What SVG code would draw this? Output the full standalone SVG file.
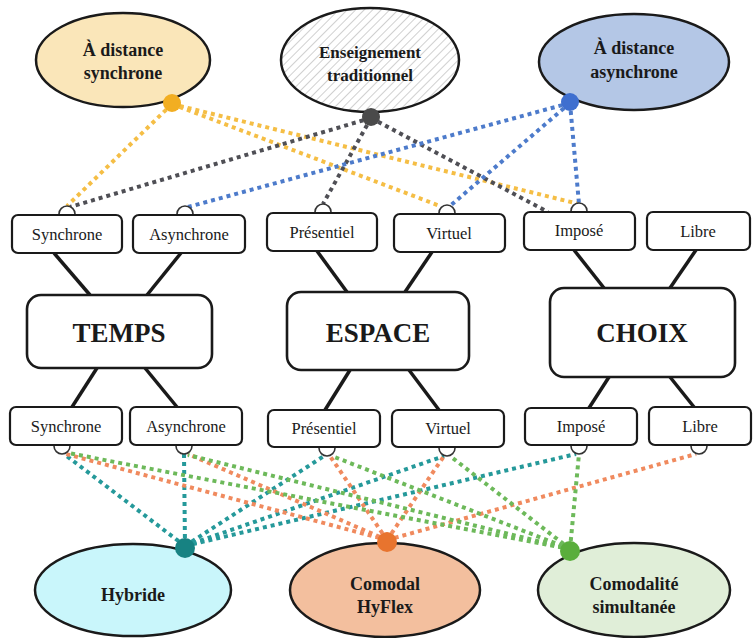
<svg xmlns="http://www.w3.org/2000/svg" width="754" height="638" viewBox="0 0 754 638" font-family="'Liberation Serif', 'Times New Roman', serif">
<defs>
<pattern id="hatch" patternUnits="userSpaceOnUse" width="6" height="6" patternTransform="rotate(45)">
<rect width="6" height="6" fill="#ffffff"/>
<line x1="0" y1="0" x2="0" y2="6" stroke="#c4c4c4" stroke-width="1.6"/>
</pattern>
<style>
text{font-family:'Liberation Serif','Times New Roman',serif}
.ell{stroke:#1a1a1a;stroke-width:2.5}
.big{font-weight:bold;font-size:18px;fill:#1a1a1a;text-anchor:middle}
.sm{fill:#fff;stroke:#1a1a1a;stroke-width:2.2}
.smt{font-size:16.5px;fill:#1a1a1a;text-anchor:middle}
.mid{fill:#fff;stroke:#1a1a1a;stroke-width:2.6}
.midt{font-weight:bold;font-size:27px;fill:#1a1a1a;text-anchor:middle}
.port{fill:#fff;stroke:#333;stroke-width:1.6}
.link{stroke:#1a1a1a;stroke-width:3.5;fill:none}
.dot{fill:none;stroke-width:4;stroke-dasharray:4 4}
.c-or{stroke:#F5BE45}
.c-dk{stroke:#4f4f55}
.c-bl{stroke:#4D7BCB}
.c-te{stroke:#25999A}
.c-sa{stroke:#F08A5E}
.c-gr{stroke:#6DB95A}
</style>
</defs>
<rect width="754" height="638" fill="#ffffff"/>

<g id="ell-sync">
<ellipse class="ell" cx="123" cy="60" rx="87" ry="47" fill="#FAE6B9"/>
<text class="big" x="123" y="56">À distance</text>
<text class="big" x="123" y="79">synchrone</text>
</g>
<g id="ell-trad">
<ellipse class="ell" cx="370" cy="60" rx="89" ry="52" fill="url(#hatch)"/>
<text class="big" x="370" y="58" style="font-size:17px">Enseignement</text>
<text class="big" x="370" y="81" style="font-size:17px">traditionnel</text>
</g>
<g id="ell-async">
<ellipse class="ell" cx="634" cy="62" rx="95" ry="48" fill="#B4C7E6"/>
<text class="big" x="634" y="54">À distance</text>
<text class="big" x="634" y="78">asynchrone</text>
</g>
<g id="ell-hybride">
<ellipse class="ell" cx="133" cy="590" rx="98" ry="46" fill="#C9F6FB"/>
<text class="big" x="133" y="601">Hybride</text>
</g>
<g id="ell-comodal">
<ellipse class="ell" cx="385" cy="590" rx="95" ry="47" fill="#F3BF9E"/>
<text class="big" x="385" y="590">Comodal</text>
<text class="big" x="385" y="613">HyFlex</text>
</g>
<g id="ell-comodalite">
<ellipse class="ell" cx="634" cy="590" rx="96" ry="47" fill="#E0EED8"/>
<text class="big" x="634" y="590">Comodalité</text>
<text class="big" x="634" y="613">simultanée</text>
</g>

<g id="connectors">
<line class="link" x1="54" y1="253" x2="90" y2="295"/>
<line class="link" x1="181" y1="253" x2="147" y2="295"/>
<line class="link" x1="317" y1="251" x2="347" y2="292"/>
<line class="link" x1="432" y1="252" x2="405" y2="292"/>
<line class="link" x1="574" y1="250" x2="604" y2="288"/>
<line class="link" x1="696" y1="250" x2="670" y2="288"/>
<line class="link" x1="97" y1="368" x2="72" y2="407"/>
<line class="link" x1="145" y1="368" x2="177" y2="407"/>
<line class="link" x1="350" y1="370" x2="325" y2="410"/>
<line class="link" x1="409" y1="370" x2="439" y2="410"/>
<line class="link" x1="609" y1="377" x2="589" y2="408"/>
<line class="link" x1="670" y1="377" x2="694" y2="407"/>

<line class="dot c-or" x1="172" y1="104" x2="67" y2="206"/>
<line class="dot c-or" x1="172" y1="104" x2="440" y2="206"/>
<line class="dot c-or" x1="172" y1="104" x2="579" y2="204"/>
<line class="dot c-dk" x1="371" y1="118" x2="70" y2="207"/>
<line class="dot c-dk" x1="371" y1="118" x2="323" y2="204"/>
<line class="dot c-dk" x1="371" y1="118" x2="548" y2="212"/>
<line class="dot c-bl" x1="570" y1="103" x2="188" y2="207"/>
<line class="dot c-bl" x1="570" y1="103" x2="450" y2="206"/>
<line class="dot c-bl" x1="570" y1="103" x2="579" y2="204"/>

<line class="dot c-te" x1="185" y1="546" x2="64" y2="454"/>
<line class="dot c-te" x1="185" y1="546" x2="184" y2="454"/>
<line class="dot c-te" x1="185" y1="546" x2="324" y2="456"/>
<line class="dot c-te" x1="185" y1="546" x2="444" y2="456"/>
<line class="dot c-te" x1="185" y1="546" x2="576" y2="454"/>
<line class="dot c-sa" x1="387" y1="540" x2="66" y2="454"/>
<line class="dot c-sa" x1="387" y1="540" x2="188" y2="454"/>
<line class="dot c-sa" x1="387" y1="540" x2="330" y2="456"/>
<line class="dot c-sa" x1="387" y1="540" x2="444" y2="456"/>
<line class="dot c-sa" x1="387" y1="540" x2="696" y2="454"/>
<line class="dot c-gr" x1="570" y1="549" x2="68" y2="453"/>
<line class="dot c-gr" x1="570" y1="549" x2="188" y2="455"/>
<line class="dot c-gr" x1="570" y1="549" x2="332" y2="456"/>
<line class="dot c-gr" x1="570" y1="549" x2="450" y2="456"/>
<line class="dot c-gr" x1="570" y1="549" x2="579" y2="454"/>

<circle cx="172" cy="103" r="9" fill="#F2AE22"/>
<circle cx="371" cy="117" r="9" fill="#4a4a4a"/>
<circle cx="570" cy="102" r="9" fill="#3F6FCF"/>
<circle cx="185" cy="548" r="10" fill="#178282"/>
<circle cx="387" cy="542" r="10" fill="#E8742E"/>
<circle cx="570" cy="551" r="10" fill="#5AAE3C"/>
</g>

<g id="t-sync"><circle class="port" cx="67" cy="214" r="8"/><rect class="sm" x="12" y="215" width="110" height="38" rx="6"/><text class="smt" x="67" y="240">Synchrone</text></g>
<g id="t-async"><circle class="port" cx="185" cy="214" r="8"/><rect class="sm" x="133" y="215" width="112" height="38" rx="6"/><text class="smt" x="189" y="240">Asynchrone</text></g>
<g id="t-pres"><circle class="port" cx="323" cy="212" r="8"/><rect class="sm" x="267" y="213" width="110" height="38" rx="6"/><text class="smt" x="322" y="238">Présentiel</text></g>
<g id="t-virt"><circle class="port" cx="447" cy="213" r="8"/><rect class="sm" x="394" y="214" width="111" height="38" rx="6"/><text class="smt" x="449" y="239">Virtuel</text></g>
<g id="t-impose"><circle class="port" cx="579" cy="211" r="8"/><rect class="sm" x="524" y="212" width="111" height="38" rx="6"/><text class="smt" x="579" y="236">Imposé</text></g>
<g id="t-libre"><rect class="sm" x="647" y="212" width="103" height="38" rx="6"/><text class="smt" x="698" y="237">Libre</text></g>

<g id="temps"><rect class="mid" x="27" y="295" width="185" height="73" rx="14"/><text class="midt" x="119" y="342">TEMPS</text></g>
<g id="espace"><rect class="mid" x="287" y="292" width="182" height="78" rx="14"/><text class="midt" x="378" y="342">ESPACE</text></g>
<g id="choix"><rect class="mid" x="550" y="288" width="185" height="89" rx="14"/><text class="midt" x="642" y="342">CHOIX</text></g>

<g id="b-sync"><circle class="port" cx="62" cy="446" r="8"/><rect class="sm" x="10" y="407" width="112" height="38" rx="6"/><text class="smt" x="66" y="432">Synchrone</text></g>
<g id="b-async"><circle class="port" cx="184" cy="446" r="8"/><rect class="sm" x="130" y="407" width="112" height="38" rx="6"/><text class="smt" x="186" y="432">Asynchrone</text></g>
<g id="b-pres"><circle class="port" cx="327" cy="448" r="8"/><rect class="sm" x="268" y="410" width="112" height="37" rx="6"/><text class="smt" x="324" y="434">Présentiel</text></g>
<g id="b-virt"><circle class="port" cx="447" cy="448" r="8"/><rect class="sm" x="392" y="410" width="112" height="37" rx="6"/><text class="smt" x="448" y="434">Virtuel</text></g>
<g id="b-impose"><circle class="port" cx="579" cy="446" r="8"/><rect class="sm" x="525" y="408" width="112" height="37" rx="6"/><text class="smt" x="581" y="432">Imposé</text></g>
<g id="b-libre"><circle class="port" cx="699" cy="446" r="8"/><rect class="sm" x="649" y="407" width="102" height="38" rx="6"/><text class="smt" x="700" y="432">Libre</text></g>
</svg>
